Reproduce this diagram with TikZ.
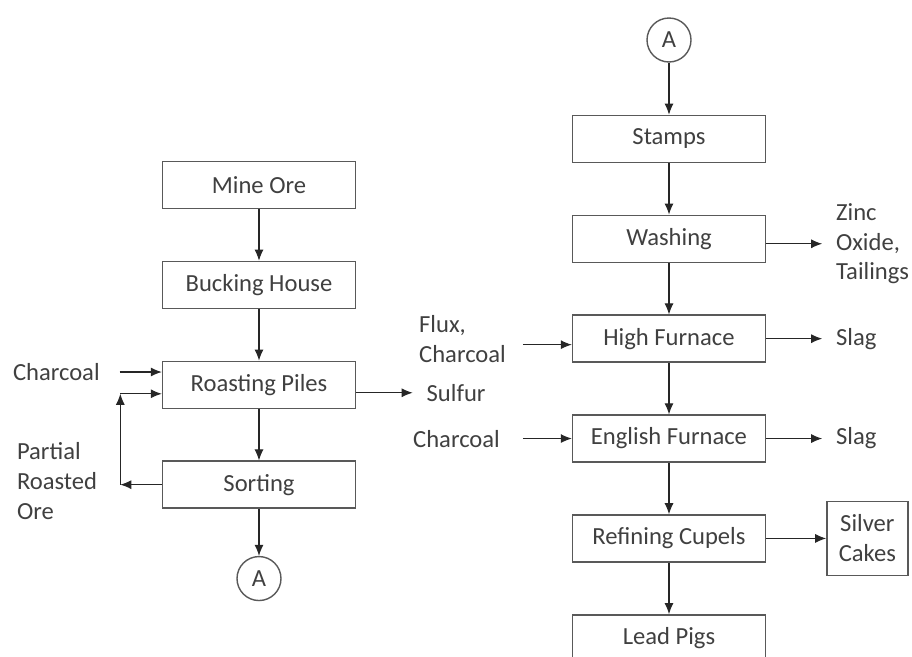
\documentclass[tikz,border=0pt]{standalone}
\usepackage{fontspec}
\setmainfont{Carlito}
\usetikzlibrary{shapes,arrows.meta}
\usetikzlibrary{positioning}
\tikzset{auto,>={Latex[length=2.2mm,width=1.8mm]}, node distance=1.03cm, font=\fontsize{14}{17}\selectfont}
\tikzstyle{block} = [draw=black!65, line width=0.8pt, fill=white, rectangle, minimum height=0.94cm, minimum width=3.86cm, text centered, align=center]
\tikzstyle{conn} = [draw=black!65, line width=0.8pt, circle, minimum size=0.88cm, inner sep=0pt]
\tikzstyle{stream} = [align=left, inner sep=0pt, outer sep=0pt]

\begin{document}
\begin{tikzpicture}[x=0.02cm, y=-0.02cm, color=black!85, text=black!75, line width=0.6pt]
		\useasboundingbox (0,0) rectangle (912,656);

		% left column
		\node [block] (mine) at (259,185) {Mine Ore};
		\node [block, below=of mine] (bucking) {Bucking House};
		\node [block, below=of bucking] (roasting) {Roasting Piles};
		\node [block, below=of roasting] (sorting) {Sorting};
		\node [conn, below=0.94cm of sorting] (a_out) {A};

		% right column
		\node [conn] (a_in) at (669,40) {A};
		\node [block, below=1.04cm of a_in] (stamps) {Stamps};
		\node [block, below=of stamps] (washing) {Washing};
		\node [block, below=of washing] (high) {High Furnace};
		\node [block, below=of high] (english) {English Furnace};
		\node [block, below=of english] (refining) {Refining Cupels};
		\node [block, below=of refining] (lead) {Lead Pigs};
		\node [block, minimum width=1.62cm, minimum height=1.48cm, right=1.2cm of refining] (silver) {Silver\\Cakes};

		% streams
		\node [stream, anchor=west] (charcoal_l) at (13,372) {Charcoal};
		\node [stream, anchor=west] (partial) at (17,481) {Partial\\Roasted\\Ore};
		\node [stream, right=1.41cm of roasting, yshift=-0.16cm] (sulfur) {Sulfur};
		\node [stream, right=1.4cm of washing, yshift=-0.1cm] (zinc) {Zinc\\Oxide,\\Tailings};
		\node [stream, right=1.4cm of high] (slag_h) {Slag};
		\node [stream, right=1.4cm of english] (slag_e) {Slag};
		\node [stream, left=1.32cm of high] (flux) {Flux,\\Charcoal};
		\node [stream, left=1.44cm of english] (charcoal_r) {Charcoal};

		\coordinate [left=0.83cm of sorting.west] (loop_b);
		\coordinate [yshift=-0.18cm] (loop_t) at (loop_b |- roasting);
		\coordinate [yshift=-0.12cm] (flux_in) at (high.west);

		\draw [->] (mine) -- (bucking);
		\draw [->] (bucking) -- (roasting);
		\draw [->] (roasting) -- (sorting);
		\draw [->] (sorting) -- (a_out);

		\draw [->] ([xshift=0.4cm]charcoal_l.east) -- (charcoal_l.east -| roasting.west);
		\draw [->] (sorting.west) -- (loop_b);
		\draw [->] (loop_b) -- (loop_t);
		\draw [->] (loop_t) -- (loop_t -| roasting.west);
		\draw [->] (roasting.east |- sulfur) -- ([xshift=-0.28cm]sulfur.west);

		\draw [->] (a_in) -- (stamps);
		\draw [->] (stamps) -- (washing);
		\draw [->] (washing) -- (high);
		\draw [->] (high) -- (english);
		\draw [->] (english) -- (refining);
		\draw [->] (refining) -- (lead);

		\draw [->] (washing.east |- zinc) -- ([xshift=-0.28cm]zinc.west);
		\draw [->] (high) -- ([xshift=-0.28cm]slag_h.west);
		\draw [->] (english) -- ([xshift=-0.28cm]slag_e.west);
		\draw [->] (refining) -- (silver);
		\draw [->] ([xshift=0.34cm]flux.east |- flux_in) -- (flux_in);
		\draw [->] ([xshift=0.46cm]charcoal_r.east) -- (english);

	\end{tikzpicture}
\end{document}
